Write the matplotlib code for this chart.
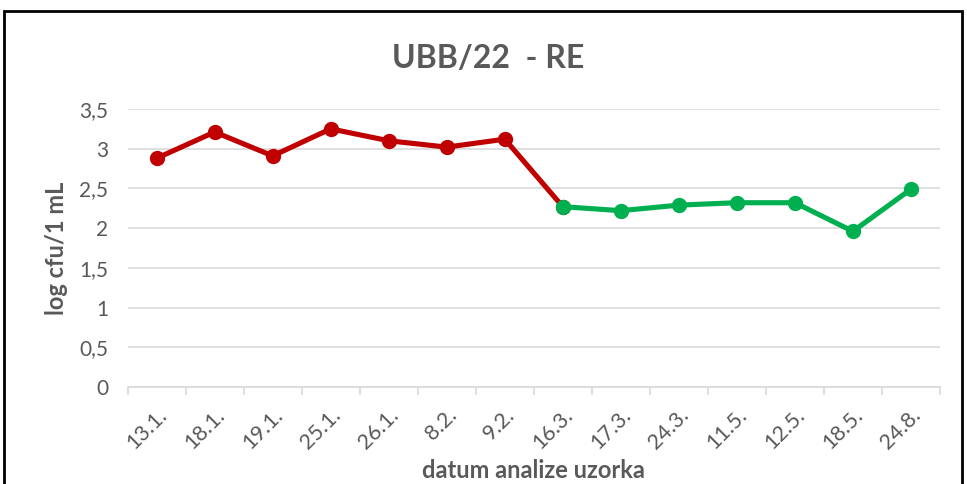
import matplotlib.pyplot as plt
from matplotlib.patches import Rectangle

dates = ["13.1.", "18.1.", "19.1.", "25.1.", "26.1.", "8.2.", "9.2.",
         "16.3.", "17.3.", "24.3.", "11.5.", "12.5.", "18.5.", "24.8."]
values = [2.88, 3.21, 2.91, 3.25, 3.10, 3.02, 3.12,
          2.27, 2.22, 2.29, 2.32, 2.32, 1.96, 2.49]
# first 8 points drawn red (up to 16.3.), from 16.3. on green
split = 7

plt.rcParams['font.family'] = ['Lato', 'DejaVu Sans']

fig = plt.figure(figsize=(9.67, 4.84), dpi=100)
ax = fig.add_axes([0.132, 0.2004, 0.840, 0.5744])

x = list(range(len(dates)))
ax.plot(x[:split + 1], values[:split + 1], color='#C00000', lw=3.7,
        marker='o', ms=10, zorder=3)
ax.plot(x[split:], values[split:], color='#00B050', lw=3.7,
        marker='o', ms=10, zorder=4)

ax.set_xlim(-0.5, len(dates) - 0.5)
ax.set_ylim(0, 3.5)
ax.set_yticks([0, 0.5, 1, 1.5, 2, 2.5, 3, 3.5])
ax.set_yticklabels(["0", "0,5", "1", "1,5", "2", "2,5", "3", "3,5"])
ax.grid(axis='y', color='#d9d9d9', lw=1.2)
ax.set_axisbelow(True)

ax.set_xticks(x)
ax.set_xticklabels(dates, rotation=45, ha='right', rotation_mode='anchor')
ax.set_xticks([i - 0.5 for i in range(len(dates) + 1)], minor=True)
ax.tick_params(axis='x', which='major', length=0, pad=13,
               labelsize=15.5, labelcolor='#595959')
ax.tick_params(axis='x', which='minor', length=6, color='#d9d9d9', width=1.2)
ax.tick_params(axis='y', length=0, pad=14, labelsize=15, labelcolor='#595959')

for s in ['top', 'right', 'left']:
    ax.spines[s].set_visible(False)
ax.spines['bottom'].set_color('#d9d9d9')
ax.spines['bottom'].set_linewidth(1.2)

fig.text(0.505, 1 - 58 / 484, "UBB/22  - RE", fontsize=23, fontweight='bold',
         color='#595959', ha='center', va='center')
ax.set_ylabel("log cfu/1 mL", fontsize=17, fontweight='bold',
              color='#595959', labelpad=8)
ax.set_xlabel("datum analize uzorka", fontsize=17, fontweight='bold',
              color='#595959', labelpad=4)

# black frame of the chart area (bottom edge falls outside the image)
fig.patches.append(Rectangle((0.0045, -0.1), 0.990, 1.078, transform=fig.transFigure,
                             fill=False, edgecolor='black', lw=2))

fig.savefig("out.png", dpi=100)
